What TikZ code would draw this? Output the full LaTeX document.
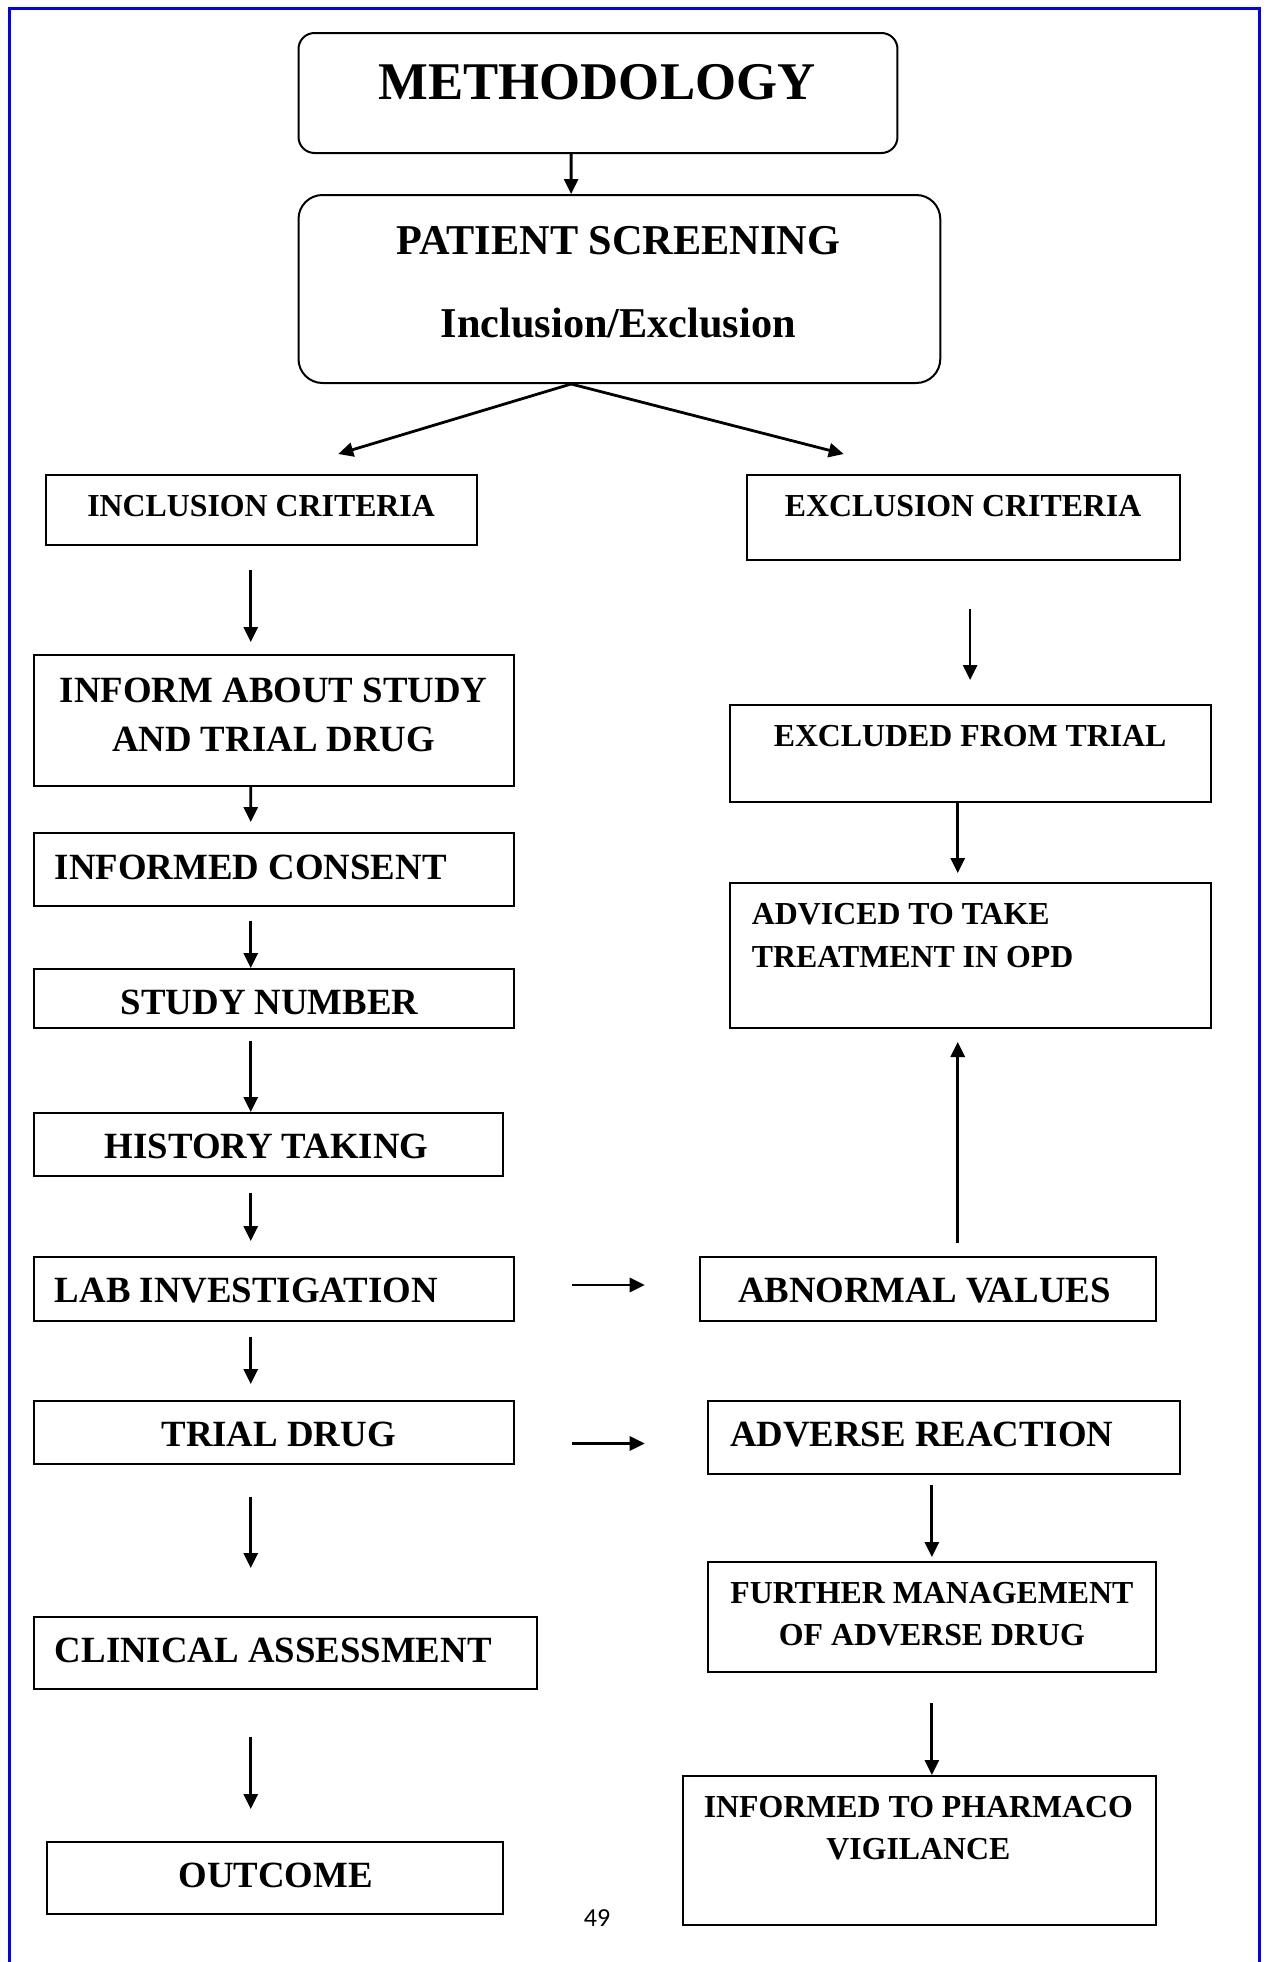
\documentclass[tikz,border=0pt]{standalone}
\usepackage{fontspec}
\setmainfont{Liberation Serif}
\newfontfamily\pagefont{Carlito}
\usetikzlibrary{arrows.meta}
\begin{document}
\begin{tikzpicture}[x=1pt,y=-1pt,
  box/.style={draw, line width=2pt, inner sep=0pt},
  rbox/.style={box, rounded corners=16pt},
  arr/.style={line width=2.8pt, -{Triangle[length=15pt,width=14pt]}},
  tA/.style={inner sep=0pt, font=\fontsize{53}{60}\selectfont\bfseries},
  tB/.style={inner sep=0pt, font=\fontsize{42.5}{48}\selectfont\bfseries},
  tC/.style={inner sep=0pt, font=\fontsize{37}{42}\selectfont\bfseries},
  tD/.style={inner sep=0pt, font=\fontsize{32}{36}\selectfont\bfseries}]
\useasboundingbox (0,0) rectangle (1267,1962);
\fill[white] (0,0) rectangle (1267,1962);
% page border
\draw[blue, line width=3pt] (9,1962) -- (9,8) -- (1259,8) -- (1259,1962);

\begin{scope}[xscale=0.995, transform shape]
% boxes
\node[rbox, minimum width=602pt, minimum height=120pt] (meth) at (601,93) {};
\node[rbox, rounded corners=24pt, minimum width=645pt, minimum height=188pt] (screen) at (622.5,289) {};
\node[box, minimum width=433pt, minimum height=70pt] (incl) at (262.5,510) {};
\node[box, minimum width=435pt, minimum height=85pt] (excl) at (968.5,517.5) {};
\node[box, minimum width=483pt, minimum height=131pt] (inform) at (275.5,720.5) {};
\node[box, minimum width=483pt, minimum height=97pt] (excluded) at (975.5,753.5) {};
\node[box, minimum width=483pt, minimum height=73pt] (consent) at (275.5,869.5) {};
\node[box, minimum width=483pt, minimum height=145pt] (advised) at (975.5,955.5) {};
\node[box, minimum width=483pt, minimum height=59pt] (study) at (275.5,998.5) {};
\node[box, minimum width=472pt, minimum height=63pt] (history) at (270,1144.5) {};
\node[box, minimum width=483pt, minimum height=64pt] (lab) at (275.5,1289) {};
\node[box, minimum width=458pt, minimum height=64pt] (abnormal) at (933,1289) {};
\node[box, minimum width=483pt, minimum height=63pt] (trial) at (275.5,1432.5) {};
\node[box, minimum width=474pt, minimum height=73pt] (adverse) at (949,1437.5) {};
\node[box, minimum width=450pt, minimum height=110pt] (further) at (937,1617) {};
\node[box, minimum width=506pt, minimum height=72pt] (clinical) at (287,1653) {};
\node[box, minimum width=459pt, minimum height=72pt] (outcome) at (276.5,1878) {};
\node[box, minimum width=476pt, minimum height=149pt] (pharm) at (924,1850.5) {};

% texts
\node[tA, anchor=base] (methT) at (600,99) {METHODOLOGY};
\node[tB, anchor=base] (screenT1) at (621.5,254.5) {PATIENT SCREENING};
\node[tB, anchor=base] (screenT2) at (621.5,337) {Inclusion/Exclusion};
\node[tD, anchor=base] (inclT) at (262.4,516) {INCLUSION CRITERIA};
\node[tD, anchor=base] (exclT) at (968,516) {EXCLUSION CRITERIA};
\node[tC, anchor=base] (informT1) at (275,702) {INFORM ABOUT STUDY};
\node[tC, anchor=base] (informT2) at (275,751) {AND TRIAL DRUG};
\node[tD, anchor=base] (excludedT) at (975,746) {EXCLUDED FROM TRIAL};
\node[tC, anchor=base west] (consentT) at (55,879) {INFORMED CONSENT};
\node[tD, anchor=base west] (advisedT1) at (755.5,924) {ADVICED TO TAKE};
\node[tD, anchor=base west] (advisedT2) at (755.5,967) {TREATMENT IN OPD};
\node[tC, anchor=base] (studyT) at (271,1014) {STUDY NUMBER};
\node[tC, anchor=base] (historyT) at (268,1158) {HISTORY TAKING};
\node[tC, anchor=base west] (labT) at (55,1302) {LAB INVESTIGATION};
\node[tC, anchor=base] (abnormalT) at (929,1302) {ABNORMAL VALUES};
\node[tC, anchor=base] (trialT) at (280,1446) {TRIAL DRUG};
\node[tC, anchor=base west] (adverseT) at (733.5,1446) {ADVERSE REACTION};
\node[tD, anchor=base] (furtherT1) at (936.6,1603) {FURTHER MANAGEMENT};
\node[tD, anchor=base] (furtherT2) at (936.6,1645) {OF ADVERSE DRUG};
\node[tC, anchor=base west] (clinicalT) at (55,1662) {CLINICAL ASSESSMENT};
\node[tC, anchor=base] (outcomeT) at (277,1887) {OUTCOME};
\node[tD, anchor=base] (pharmT1) at (923,1817) {INFORMED TO PHARMACO};
\node[tD, anchor=base] (pharmT2) at (923,1859) {VIGILANCE};

% free arrow ends
\coordinate (sL) at (340,454);
\coordinate (sR) at (848,454);
\coordinate (iA) at (252,570);  \coordinate (iB) at (252,642);
\coordinate (eA) at (975,609);  \coordinate (eB) at (975,680);
\coordinate (c1) at (252,822);
\coordinate (c2) at (252,920.5);
\coordinate (c3) at (252,1041);
\coordinate (c4) at (252,1193); \coordinate (c5) at (252,1241);
\coordinate (c6) at (252,1337); \coordinate (c7) at (252,1384);
\coordinate (c8) at (252,1497); \coordinate (c9) at (252,1568);
\coordinate (c10) at (252,1737); \coordinate (c11) at (252,1809);
\coordinate (x1) at (962.6,873);
\coordinate (u1) at (962.6,1243); \coordinate (u2) at (962.6,1042);
\coordinate (h1) at (575,1285); \coordinate (h2) at (648,1285);
\coordinate (h3) at (575,1443.5); \coordinate (h4) at (648,1443.5);
\coordinate (r1) at (936.6,1485); \coordinate (r2) at (936.6,1557);
\coordinate (r3) at (936.6,1703);

% connectors
\draw[arr] ([xshift=-27pt]meth.south) -- ([xshift=-48.5pt]screen.north);
\draw[arr] ([xshift=-48.5pt]screen.south) -- (sL);
\draw[arr] ([xshift=-48.5pt]screen.south) -- (sR);
\draw[arr] (iA) -- (iB);
\draw[arr] (eA) -- (eB);
\draw[arr] ([xshift=-23.5pt]inform.south) -- (c1);
\draw[arr] (c2) -- (c2 |- study.north);
\draw[arr] (c3) -- (c3 |- history.north);
\draw[arr] (c4) -- (c5);
\draw[arr] (c6) -- (c7);
\draw[arr] (c8) -- (c9);
\draw[arr] (c10) -- (c11);
\draw[arr] (x1 |- excluded.south) -- (x1);
\draw[arr] (u1) -- (u2);
\draw[arr] (h1) -- (h2);
\draw[arr] (h3) -- (h4);
\draw[arr] (r1) -- (r2);
\draw[arr] (r3) -- (r3 |- pharm.north);
\end{scope}

\node[inner sep=0pt, anchor=base, font=\pagefont\fontsize{26}{30}\selectfont] (pagenum) at (597,1926.5) {49};
\end{tikzpicture}
\end{document}
